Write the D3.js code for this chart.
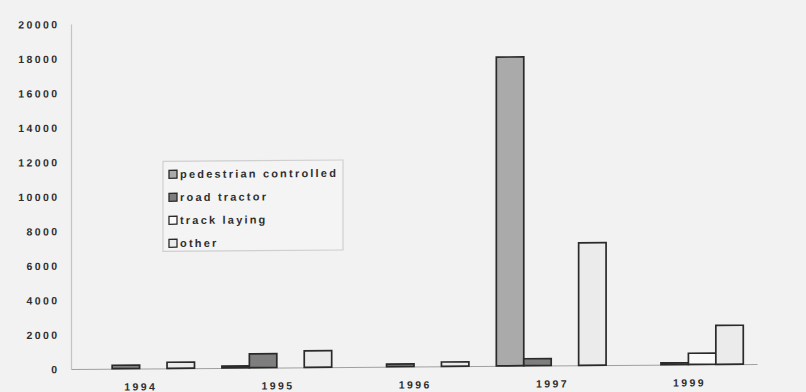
<!DOCTYPE html>
<html>
<head>
<meta charset="utf-8">
<script src="https://cdn.jsdelivr.net/npm/d3@7"></script>
<style>
  html, body { margin: 0; padding: 0; background: #f2f2f2; }
  svg { display: block; }
  text { font-family: "Liberation Sans", Arial, sans-serif; font-weight: bold; fill: #2e2e2e; }
</style>
</head>
<body>
<svg id="chart" width="806" height="392"></svg>
<script>
// Vehicle counts by year and vehicle type
const categories = ["1994", "1995", "1996", "1997", "1999"];
const seriesNames = ["pedestrian controlled", "road tractor", "track laying", "other"];
const pedestrianControlled = [0, 100, 0, 17900, 0];
const roadTractor = [200, 800, 150, 400, 100];
const trackLaying = [0, 0, 0, 0, 650];
const other = [350, 950, 250, 7100, 2250];
const yTicks = [0, 2000, 4000, 6000, 8000, 10000, 12000, 14000, 16000, 18000, 20000];

const seriesValues = [pedestrianControlled, roadTractor, trackLaying, other];
const fills = ["#aaaaaa", "#7e7e7e", "#fafafa", "#ebebeb"];

const W = 806, H = 392;
const plotLeft = 71, plotRight = 757, plotTop = 24, plotBottom = 369;

const svg = d3.select("#chart");
svg.append("rect").attr("width", W).attr("height", H).attr("fill", "#f2f2f2");

// the printed page sits slightly askew
const g = svg.append("g")
  .attr("transform", `translate(${plotLeft},0) skewY(-0.42) translate(${-plotLeft},0)`);

const x0 = d3.scaleBand().domain(categories).range([plotLeft, plotRight]).paddingInner(0).paddingOuter(0);
const x1 = d3.scaleBand().domain(seriesNames).range([0, x0.bandwidth()]).paddingInner(0).paddingOuter(0.5);
const y = d3.scaleLinear().domain([0, 20000]).range([plotBottom, plotTop]);

// value axis
const yAxis = d3.axisLeft(y).tickValues(yTicks).tickSize(0).tickPadding(14).tickFormat(d3.format("d"));
const ya = g.append("g").attr("transform", `translate(${plotLeft},0)`).call(yAxis);
ya.select(".domain").attr("stroke", "#c4c4c4").attr("stroke-width", 1.2);
ya.selectAll("text")
  .attr("font-size", "10.5px")
  .attr("letter-spacing", "2.4px")
  .attr("dx", "2.4px")
  .attr("dy", "0.35em")
  .style("font-family", "'Liberation Sans', Arial, sans-serif")
  .style("font-weight", "bold")
  .attr("fill", "#2e2e2e");

// category baseline and labels
const xAxis = d3.axisBottom(x0).tickSize(0).tickPadding(16);
const xa = g.append("g").attr("transform", `translate(0,${plotBottom})`).call(xAxis);
xa.select(".domain").attr("stroke", "#a0a0a0").attr("stroke-width", 1);
xa.selectAll("text")
  .attr("font-size", "10.5px")
  .attr("letter-spacing", "2.4px")
  .attr("dx", "1.2px")
  .attr("y", 22)
  .attr("dy", 0)
  .style("font-family", "'Liberation Sans', Arial, sans-serif")
  .style("font-weight", "bold")
  .attr("fill", "#2e2e2e");

// bars
const bars = [];
categories.forEach((c, ci) => {
  seriesNames.forEach((s, si) => {
    const v = seriesValues[si][ci];
    if (v > 0) bars.push({ c, s, si, v });
  });
});
g.append("g").selectAll("rect").data(bars).join("rect")
  .attr("x", d => x0(d.c) + x1(d.s))
  .attr("width", x1.bandwidth())
  .attr("y", d => y(d.v))
  .attr("height", d => y(0) - y(d.v))
  .attr("fill", d => fills[d.si])
  .attr("stroke", "#2a2a2a")
  .attr("stroke-width", 1.7);

// legend
const lg = g.append("g").attr("transform", "translate(163,162)");
lg.append("rect").attr("x", 0).attr("y", 0).attr("width", 180).attr("height", 90)
  .attr("fill", "#f4f4f4").attr("stroke", "#cfcfcf").attr("stroke-width", 1.2);
const items = lg.selectAll("g.item").data(seriesNames).join("g")
  .attr("class", "item")
  .attr("transform", (d, i) => `translate(6,${13 + i * 23})`);
items.append("rect").attr("x", 0).attr("y", -4).attr("width", 8).attr("height", 8)
  .attr("fill", (d, i) => fills[i]).attr("stroke", "#2a2a2a").attr("stroke-width", 1.3);
items.append("text").attr("x", 11).attr("y", 0).attr("dy", "0.35em")
  .attr("font-size", "11px").attr("letter-spacing", "2.2px")
  .text(d => d);
</script>
</body>
</html>
